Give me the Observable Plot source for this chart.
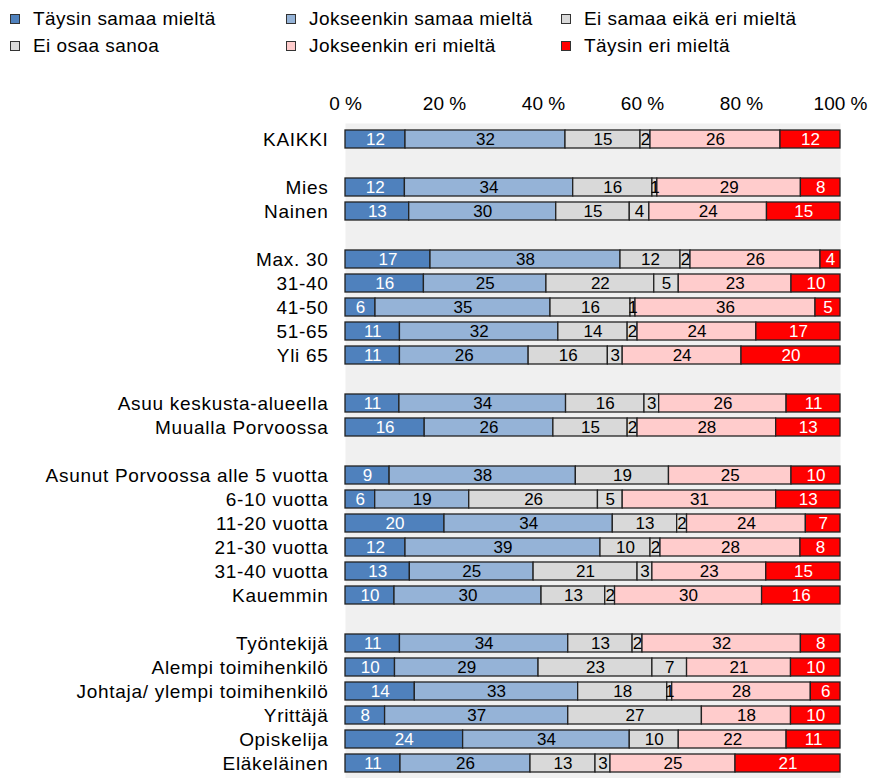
<!DOCTYPE html>
<html>
<head>
<meta charset="utf-8">
<script src="https://cdn.jsdelivr.net/npm/d3@7"></script>
<script src="https://cdn.jsdelivr.net/npm/@observablehq/plot@0.6"></script>
<style>
  body { margin: 0; background: #fff; font-family: "Liberation Sans", Arial, sans-serif; }
  #legend { position: relative; width: 871px; height: 62px; }
  .li { position: absolute; font-size: 19px; line-height: 20px; letter-spacing: 0.45px; white-space: nowrap; color: #000; }
  .sw { position: absolute; width: 8px; height: 8px; border: 1px solid #333; }
  #chart svg { display: block; }
  .yax text { letter-spacing: 0.7px; }
</style>
</head>
<body>
<div id="legend"></div>
<div id="chart"></div>
<script>
const rows = ["KAIKKI", null, "Mies", "Nainen", null, "Max. 30", "31-40", "41-50", "51-65", "Yli 65", null,
  "Asuu keskusta-alueella", "Muualla Porvoossa", null,
  "Asunut Porvoossa alle 5 vuotta", "6-10 vuotta", "11-20 vuotta", "21-30 vuotta", "31-40 vuotta", "Kauemmin", null,
  "Työntekijä", "Alempi toimihenkilö", "Johtaja/ ylempi toimihenkilö", "Yrittäjä", "Opiskelija", "Eläkeläinen"];

const seriesNames = ["Täysin samaa mieltä", "Jokseenkin samaa mieltä", "Ei samaa eikä eri mieltä", "Ei osaa sanoa", "Jokseenkin eri mieltä", "Täysin eri mieltä"];
const seriesColors = ["#4f81bd", "#95b3d7", "#d9d9d9", "#dcdcdc", "#ffcccc", "#ff0000"];
const whiteText = ["Täysin samaa mieltä", "Täysin eri mieltä"];

const taysinSamaa     = [12, 12, 13, 17, 16, 6, 11, 11, 11, 16, 9, 6, 20, 12, 13, 10, 11, 10, 14, 8, 24, 11];
const jokseenkinSamaa = [32, 34, 30, 38, 25, 35, 32, 26, 34, 26, 38, 19, 34, 39, 25, 30, 34, 29, 33, 37, 34, 26];
const eiSamaaEikaEri  = [15, 16, 15, 12, 22, 16, 14, 16, 16, 15, 19, 26, 13, 10, 21, 13, 13, 23, 18, 27, 10, 13];
const eiOsaaSanoa     = [2, 1, 4, 2, 5, 1, 2, 3, 3, 2, 0, 5, 2, 2, 3, 2, 2, 7, 1, 0, 0, 3];
const jokseenkinEri   = [26, 29, 24, 26, 23, 36, 24, 24, 26, 28, 25, 31, 24, 28, 23, 30, 32, 21, 28, 18, 22, 25];
const taysinEri       = [12, 8, 15, 4, 10, 5, 17, 20, 11, 13, 10, 13, 7, 8, 15, 16, 8, 10, 6, 10, 11, 21];

const xTicks = [0, 0.2, 0.4, 0.6, 0.8, 1];

// build keys (gaps get unique hidden keys)
let g = 0;
const keys = rows.map(r => r === null ? "gap" + (g++) : r);
const cats = rows.filter(r => r !== null);
const seriesValues = [taysinSamaa, jokseenkinSamaa, eiSamaaEikaEri, eiOsaaSanoa, jokseenkinEri, taysinEri];
const data = [];
cats.forEach((c, i) => seriesNames.forEach((s, j) => data.push({row: c, series: s, value: seriesValues[j][i]})));

// legend
const legend = document.getElementById("legend");
const legPos = [[10, 19], [286, 19], [561, 19], [10, 46], [286, 46], [561, 46]];
seriesNames.forEach((s, i) => {
  const [x, y] = legPos[i];
  const sw = document.createElement("div");
  sw.className = "sw";
  sw.style.left = x + "px"; sw.style.top = (y - 5) + "px";
  sw.style.background = seriesColors[i];
  legend.appendChild(sw);
  const t = document.createElement("div");
  t.className = "li";
  t.style.left = (x + 23) + "px"; t.style.top = (y - 10) + "px";
  t.textContent = s;
  legend.appendChild(t);
});

const stackOpts = {x: "value", y: "row", z: "series", order: seriesNames, offset: "normalize"};

const chart = Plot.plot({
  width: 871,
  height: 717,
  marginLeft: 345,
  marginRight: 31,
  marginTop: 61,
  marginBottom: 0,
  style: {fontFamily: "Liberation Sans, Arial, sans-serif", fontSize: "19px", color: "#000", background: "#fff"},
  x: {domain: [0, 1], axis: null},
  y: {domain: keys, paddingInner: 0.26, paddingOuter: 0.13, axis: null},
  color: {domain: seriesNames, range: seriesColors},
  marks: [
    Plot.frame({fill: "#f0f0f0", stroke: null}),
    Plot.axisX({anchor: "top", ticks: xTicks, tickFormat: d => Math.round(d * 100) + " %", tickSize: 0, tickPadding: 14, fontSize: 19, label: null}),
    Plot.axisY({anchor: "left", tickSize: 0, tickPadding: 17, fontSize: 19, label: null, className: "yax", tickFormat: d => d.startsWith("gap") ? "" : d}),
    Plot.barX(data, Plot.stackX({...stackOpts, fill: "series", stroke: "#222", strokeWidth: 1.3})),
    Plot.text(data, Plot.stackX({...stackOpts, text: d => (whiteText.includes(d.series) && d.value > 0) ? String(d.value) : "", fill: "#fff", fontSize: 17})),
    Plot.text(data, Plot.stackX({...stackOpts, text: d => (!whiteText.includes(d.series) && d.value > 0) ? String(d.value) : "", fill: "#000", fontSize: 17}))
  ]
});
document.getElementById("chart").appendChild(chart);
</script>
</body>
</html>
